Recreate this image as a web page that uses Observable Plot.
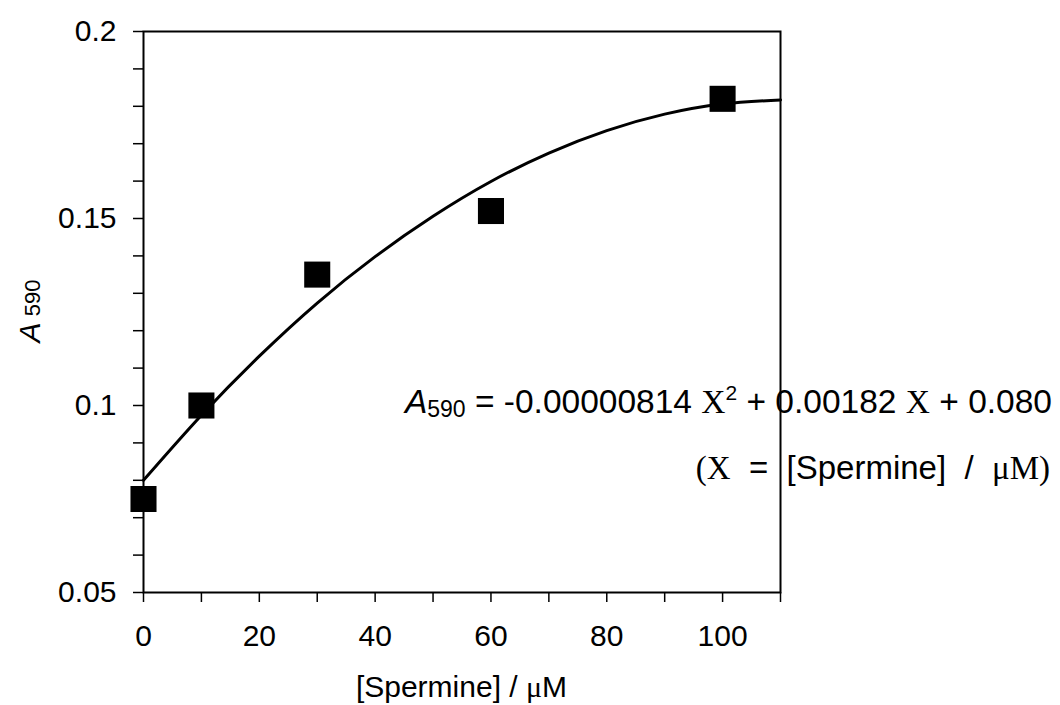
<!DOCTYPE html>
<html>
<head>
<meta charset="utf-8">
<script src="https://cdn.jsdelivr.net/npm/d3@7"></script>
<script src="https://cdn.jsdelivr.net/npm/@observablehq/plot@0.6"></script>
<style>
  html, body { margin: 0; padding: 0; background: #fff; }
  #chart { width: 1060px; height: 705px; }
</style>
</head>
<body>
<div id="chart"></div>
<script>
// Measured data points
const spermine = [0, 10, 30, 60, 100];
const absorbance = [0.075, 0.100, 0.135, 0.152, 0.182];

// Fitted curve
const curveX = [0, 10, 20, 30, 40, 50, 60, 70, 80, 90, 100, 110];
const curveY = [0.0800, 0.0974, 0.1132, 0.1274, 0.1398, 0.1506, 0.1599, 0.1675, 0.1735, 0.1779, 0.1806, 0.1817];

// Ticks
const xTicks = [0, 10, 20, 30, 40, 50, 60, 70, 80, 90, 100, 110];
const xTickLabels = [0, 20, 40, 60, 80, 100];
const yTicks = [0.05, 0.06, 0.07, 0.08, 0.09, 0.10, 0.11, 0.12, 0.13, 0.14, 0.15, 0.16, 0.17, 0.18, 0.19, 0.20];
const yMajor = [0.05, 0.10, 0.15, 0.20];
const yMajorLabels = ["0.05", "0.1", "0.15", "0.2"];

const points = spermine.map((x, i) => ({x, y: absorbance[i]}));
const curve = curveX.map((x, i) => ({x, y: curveY[i]}));

const plot = Plot.plot({
  width: 1060,
  height: 705,
  marginTop: 31,
  marginBottom: 113,
  marginLeft: 143,
  marginRight: 280,
  style: {fontFamily: "'Liberation Sans', Arial, sans-serif", fontSize: "30px", color: "#000", background: "#fff"},
  x: {domain: [0, 110]},
  y: {domain: [0.05, 0.2]},
  marks: [
    Plot.axisX({
      ticks: xTicks, tickSize: 10, tickPadding: 22, strokeWidth: 1.5, label: null,
      tickFormat: d => xTickLabels.includes(d) ? String(d) : ""
    }),
    Plot.axisY({
      ticks: yTicks, tickSize: 10, tickPadding: 17, strokeWidth: 1.5, label: null,
      tickFormat: d => {
        const i = yMajor.findIndex(v => Math.abs(v - d) < 1e-9);
        return i >= 0 ? yMajorLabels[i] : "";
      }
    }),
    Plot.frame({stroke: "#000", strokeWidth: 2}),
    Plot.line(curve, {x: "x", y: "y", curve: "natural", stroke: "#000", strokeWidth: 3}),
    Plot.dot(points, {x: "x", y: "y", symbol: "square", r: 14.7, fill: "#000", stroke: "none"})
  ]
});

document.getElementById("chart").appendChild(plot);

const svg = d3.select(plot);
const serif = "'Liberation Serif', 'Times New Roman', serif";

// White box behind the equation (covers the right frame line)
svg.append("rect").attr("x", 800).attr("y", 378).attr("width", 260).attr("height", 115).attr("fill", "#fff");

// Y-axis title
const yt = svg.append("text")
  .attr("transform", "translate(40,311) rotate(-90)")
  .attr("text-anchor", "middle")
  .attr("fill", "#000");
yt.append("tspan").attr("font-style", "italic").attr("font-size", 30).text("A");
yt.append("tspan").attr("font-size", 22).text(" 590");

// X-axis title
const xt = svg.append("text")
  .attr("x", 461.5).attr("y", 697)
  .attr("text-anchor", "middle")
  .attr("font-size", 30)
  .attr("fill", "#000");
xt.append("tspan").text("[Spermine] / ");
xt.append("tspan").attr("font-family", serif).text("\u03bc");
xt.append("tspan").text("M");

// Equation line 1
const eq = svg.append("text")
  .attr("x", 1052).attr("y", 413)
  .attr("text-anchor", "end")
  .attr("font-size", 33.5)
  .attr("fill", "#000");
eq.append("tspan").attr("font-style", "italic").text("A");
eq.append("tspan").attr("font-size", 23).attr("dy", 4).text("590");
eq.append("tspan").attr("dy", -4).text(" = -0.00000814 ");
eq.append("tspan").attr("font-family", serif).text("X");
eq.append("tspan").attr("font-size", 21).attr("dy", -13).text("2");
eq.append("tspan").attr("dy", 13).text(" + 0.00182 ");
eq.append("tspan").attr("font-family", serif).text("X");
eq.append("tspan").text(" + 0.080");

// Equation line 2
const eq2 = svg.append("text")
  .attr("x", 1050).attr("y", 479)
  .attr("text-anchor", "end")
  .attr("font-size", 33)
  .attr("fill", "#000")
  .style("white-space", "pre");
eq2.append("tspan").attr("font-family", serif).text("(X");
eq2.append("tspan").text("  =  [Spermine]  /  ");
eq2.append("tspan").attr("font-family", serif).text("\u03bcM)");
</script>
</body>
</html>
